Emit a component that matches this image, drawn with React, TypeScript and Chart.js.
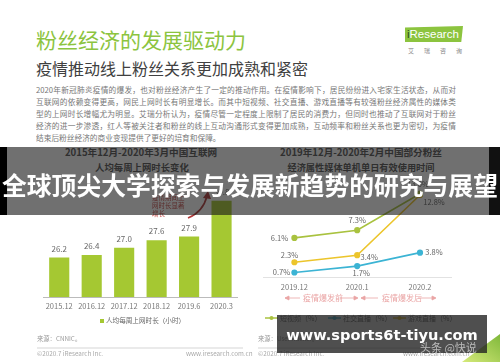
import React, { useEffect, useRef } from "react";
import { Chart, registerables } from "chart.js";

Chart.register(...registerables);

// ---------- data ----------
const barCategories = ["2015.12", "2016.12", "2017.12", "2018.12", "2019.6", "2020.3"];
const barValues = [26.2, 26.4, 27.0, 27.6, 27.9, 30.8];
const barSeriesName = "人均每周上网时长（小时）";

const lineCategories = ["2019.12", "2020.1", "2020.2"];
const shortVideo = [6.1, 7.3, 13.0];
const socialLive = [0.7, 1.7, 3.8];
const gameLive = [2.3, 3.4, 12.8];
const lineSeriesNames = ["短视频（%）", "社交直播（%）", "游戏直播（%）"];

const paragraphLines = [
  "2020年新冠肺炎疫情的爆发，也对粉丝经济产生了一定的推动作用。在疫情影响下，居民纷纷进入宅家生活状态，从而对",
  "互联网的依赖变得更高，网民上网时长有明显增长。而其中短视频、社交直播、游戏直播等有较强粉丝经济属性的媒体类",
  "型的上网时长增幅尤为明显。艾瑞分析认为，疫情尽管一定程度上限制了居民的消费力，但同时也推动了互联网对于粉丝",
  "经济的进一步渗透，红人等被关注者和粉丝的线上互动沟通形式变得更加成熟，互动频率和粉丝关系也更为密切，为疫情",
  "结束后粉丝经济的商业变现提供了更好的培育和保障。",
];

// ---------- styles ----------
const GREEN = "#a5c832";
const LINE_COLORS = ["#a9c23f", "#3cb4d4", "#ecc52c"];
const CJK = "'Noto Sans CJK SC', 'Noto Sans', sans-serif";
const lineLabelOffsets = [
  [[-15, 0], [0, -10], [-2, -10]],
  [[-13, 0], [4, 7], [14, 0]],
  [[-5, -7], [12, 2], [14, 7]],
];

const valueLabelPlugin = {
  id: "valueLabels",
  afterDatasetsDraw(chart: any, _args: any, opts: any) {
    const ctx = chart.ctx;
    chart.data.datasets.forEach((ds: any, di: number) => {
      const meta = chart.getDatasetMeta(di);
      meta.data.forEach((el: any, i: number) => {
        const v = ds.data[i];
        const off = (opts.offsets && opts.offsets[di] && opts.offsets[di][i]) || [0, -9];
        ctx.save();
        ctx.font = opts.font;
        ctx.fillStyle = opts.color;
        ctx.textAlign = "center";
        ctx.textBaseline = "middle";
        ctx.fillText(opts.suffix ? v.toFixed(1) + opts.suffix : v.toFixed(1), el.x + off[0], el.y + off[1]);
        ctx.restore();
      });
    });
  },
};

function BarChart() {
  const ref = useRef<HTMLCanvasElement>(null);
  useEffect(() => {
    const chart = new Chart(ref.current!, {
      type: "bar",
      data: {
        labels: barCategories,
        datasets: [
          {
            label: barSeriesName,
            data: barValues,
            backgroundColor: GREEN,
            categoryPercentage: 1,
            barPercentage: 0.62,
          },
        ],
      },
      options: {
        responsive: false,
        animation: false,
        layout: { padding: { left: 13, right: 0, top: 6, bottom: 0 } },
        plugins: {
          legend: { display: false },
          tooltip: { enabled: false },
          valueLabels: { font: `8px ${CJK}`, color: "#666" },
        } as any,
        scales: {
          x: {
            grid: { display: false, drawTicks: false },
            border: { display: true, color: "#bbb", width: 1 },
            ticks: { color: "#777", font: { size: 7.5, family: CJK }, padding: 5, maxRotation: 0 },
            afterFit: (s: any) => {
              s.height = 16;
            },
          } as any,
          y: { display: false, min: 23, max: 32 },
        },
      },
      plugins: [valueLabelPlugin],
    });
    return () => chart.destroy();
  }, []);
  return (
    <canvas
      ref={ref}
      width={208}
      height={133}
      style={{ position: "absolute", left: 30, top: 180, width: 208, height: 133 }}
    />
  );
}

function LineChart() {
  const ref = useRef<HTMLCanvasElement>(null);
  useEffect(() => {
    const series = [shortVideo, socialLive, gameLive];
    const chart = new Chart(ref.current!, {
      type: "line",
      data: {
        labels: lineCategories,
        datasets: series.map((d, i) => ({
          label: lineSeriesNames[i],
          data: d,
          borderColor: LINE_COLORS[i],
          backgroundColor: LINE_COLORS[i],
          pointBackgroundColor: LINE_COLORS[i],
          pointBorderColor: LINE_COLORS[i],
          pointRadius: 2.3,
          borderWidth: 1.6,
          tension: 0,
        })),
      },
      options: {
        responsive: false,
        animation: false,
        layout: { padding: { left: 13, right: 0, top: 6, bottom: 0 } },
        plugins: {
          legend: { display: false },
          tooltip: { enabled: false },
          valueLabels: { font: `7.5px ${CJK}`, color: "#666", suffix: "%", offsets: lineLabelOffsets },
        } as any,
        scales: {
          x: {
            offset: true,
            grid: { display: false, drawTicks: false },
            border: { display: true, color: "#e2e2e2", width: 1 },
            ticks: { color: "#777", font: { size: 7.5, family: CJK }, padding: 6, maxRotation: 0 },
            afterFit: (s: any) => {
              s.height = 16;
            },
          } as any,
          y: { display: false, min: 0, max: 14.2 },
        },
      },
      plugins: [valueLabelPlugin],
    });
    return () => chart.destroy();
  }, []);
  return (
    <canvas
      ref={ref}
      width={207}
      height={113}
      style={{ position: "absolute", left: 250, top: 180, width: 207, height: 113 }}
    />
  );
}

const abs = (l: number, t: number, extra: React.CSSProperties = {}): React.CSSProperties => ({
  position: "absolute",
  left: l,
  top: t,
  whiteSpace: "nowrap",
  lineHeight: 1,
  ...extra,
});

export default function App() {
  const legendX = [265, 328, 393];
  return (
    <div
      style={{
        position: "fixed",
        left: 0,
        top: 0,
        width: 500,
        height: 362,
        overflow: "hidden",
        background: "#fff",
        fontFamily: CJK,
      }}
    >
      {/* header */}
      <div style={abs(36, 28.5, { fontSize: 21, color: "#8cc43f" })}>粉丝经济的发展驱动力</div>
      <div style={abs(36, 60, { fontSize: 16, color: "#404040" })}>疫情推动线上粉丝关系更加成熟和紧密</div>
      <div
        style={abs(405, 26, {
          width: 58,
          height: 16,
          background: "#8cc43f",
          clipPath: "polygon(0 10%, 100% 0, 97% 100%, 0 100%)",
          color: "#fff",
          fontSize: 11.5,
          fontFamily: "'Liberation Sans', sans-serif",
          lineHeight: "17px",
          paddingLeft: 2,
          boxSizing: "border-box",
        })}
      >
        <span style={{ color: "#2c4a1a" }}>i</span>Research
      </div>
      <div style={abs(408, 48, { fontSize: 6, color: "#888", letterSpacing: 10 })}>艾瑞咨询</div>

      {/* paragraph */}
      {paragraphLines.map((t, i) => {
        const full = i < paragraphLines.length - 1;
        return (
          <div
            key={i}
            style={{
              position: "absolute",
              left: 36,
              top: 84 + i * 12,
              width: full ? 420 : undefined,
              height: 11,
              overflow: "hidden",
              fontSize: 7.7,
              lineHeight: "11px",
              color: "#777",
              textAlign: full ? "justify" : "left",
              textAlignLast: full ? "justify" : "auto",
              whiteSpace: full ? "normal" : "nowrap",
            } as React.CSSProperties}
          >
            {t}
          </div>
        );
      })}

      {/* chart titles */}
      <div style={abs(0, 148, { width: 282, textAlign: "center", fontSize: 9.6, fontWeight: 700, color: "#555" })}>
        2015年12月-2020年3月中国互联网
      </div>
      <div style={abs(0, 163, { width: 284, textAlign: "center", fontSize: 9.4, fontWeight: 700, color: "#555" })}>
        人均每周上网时长变化
      </div>
      <div style={abs(250, 148, { width: 222, textAlign: "center", fontSize: 9.6, fontWeight: 700, color: "#555" })}>
        2019年12月-2020年2月中国部分粉丝
      </div>
      <div style={abs(250, 163, { width: 222, textAlign: "center", fontSize: 9.2, fontWeight: 700, color: "#555" })}>
        经济属性媒体单机单日有效使用时间
      </div>

      <BarChart />
      <LineChart />

      {/* red annotation on bar chart */}
      <div style={abs(152, 193, { fontSize: 6.5, color: "#c8504d", lineHeight: "8px" })}>
        疫情期间上
        <br />
        网时长显著
        <br />
        增长
      </div>
      <svg style={{ position: "absolute", left: 0, top: 0 }} width={500} height={362}>
        <path d="M188 218 Q 203 212 207 196" stroke="#b03a3a" strokeWidth={1.6} fill="none" />
        <path d="M203 198 L208 191 L211 199 Z" fill="#b03a3a" />
        {/* period markers */}
        <g stroke="#eaa5a5" strokeWidth={0.8} fill="#eaa5a5">
          <line x1={285} y1={298} x2={300} y2={298} />
          <path d="M285 298 L289 296 L289 300 Z" />
          <line x1={340} y1={298} x2={357} y2={298} />
          <path d="M358 298 L354 296 L354 300 Z" />
          <line x1={361} y1={298} x2={378} y2={298} />
          <path d="M361 298 L365 296 L365 300 Z" />
          <line x1={418} y1={298} x2={435} y2={298} />
          <path d="M436 298 L432 296 L432 300 Z" />
        </g>
        {/* line legend glyphs */}
        {legendX.map((x, i) => (
          <g key={i}>
            <line x1={x} y1={318} x2={x + 13} y2={318} stroke={LINE_COLORS[i]} strokeWidth={1.5} />
            <circle cx={x + 6.5} cy={318} r={2} fill={LINE_COLORS[i]} />
          </g>
        ))}
        <line x1={37} y1={348} x2={243} y2={348} stroke="#d5d5d5" strokeWidth={1} />
        <line x1={258} y1={348} x2={460} y2={348} stroke="#d5d5d5" strokeWidth={1} />
      </svg>
      <div style={abs(303, 294, { fontSize: 8, color: "#eaa5a5" })}>疫情爆发前</div>
      <div style={abs(382, 294, { fontSize: 8, color: "#eaa5a5" })}>疫情爆发后</div>

      {/* bar legend */}
      <div style={abs(100, 319, { width: 4, height: 4, background: GREEN })} />
      <div style={abs(106, 317, { fontSize: 6.6, color: "#666" })}>{barSeriesName}</div>
      {/* line legend texts */}
      {legendX.map((x, i) => (
        <div key={i} style={abs(x + 15, 314.5, { fontSize: 7, color: "#666" })}>
          {lineSeriesNames[i]}
        </div>
      ))}

      {/* footers */}
      <div style={abs(37, 336, { fontSize: 6.3, color: "#999" })}>来源：CNNIC。</div>
      <div style={abs(37, 351, { fontSize: 6.3, color: "#aaa" })}>©2020.7 iResearch Inc.</div>
      <div style={abs(186, 351, { fontSize: 6.3, color: "#aaa" })}>www.iresearch.com.cn</div>
      <div style={abs(258, 336, { fontSize: 6.3, color: "#999" })}>来源：UserTracker。</div>
      <div style={abs(258, 351, { fontSize: 6.3, color: "#aaa" })}>©2020.7 iResearch Inc.</div>
      <div style={abs(403, 351, { fontSize: 6.3, color: "#aaa" })}>www.iresearch.com.cn</div>

      {/* green corner */}
      <svg style={{ position: "absolute", left: 0, top: 0 }} width={500} height={362}>
        <defs>
          <linearGradient id="gc" x1="0" y1="1" x2="1" y2="0">
            <stop offset="0" stopColor="#d6ea7a" />
            <stop offset="1" stopColor="#7fb83a" />
          </linearGradient>
        </defs>
        <polygon points="462,362 500,334 500,362" fill="url(#gc)" />
      </svg>

      {/* overlay band */}
      <div style={{ position: "absolute", left: 0, top: 147, width: 500, height: 68, background: "rgba(25,25,25,0.62)" }} />
      <div style={{ position: "absolute", left: 0, top: 147, width: 7, height: 68, background: "#000" }} />
      <div style={{ position: "absolute", left: 489, top: 147, width: 11, height: 68, background: "#111" }} />
      <div
        style={abs(0, 172, {
          width: 500,
          textAlign: "center",
          fontSize: 24.8,
          fontWeight: 700,
          color: "#fff",
        })}
      >
        全球顶尖大学探索与发展新趋势的研究与展望
      </div>

      {/* bottom banner */}
      <div style={{ position: "absolute", left: 277, top: 315, width: 210, height: 38, background: "rgba(35,35,35,0.8)" }} />
      <div
        style={abs(277, 328, {
          width: 210,
          textAlign: "center",
          fontSize: 14.6,
          fontWeight: 700,
          color: "#fff",
          fontFamily: "'DejaVu Sans', sans-serif",
        })}
      >
        www.sports6t-tiyu.com
      </div>
      <div style={abs(420, 342, { fontSize: 11, color: "rgba(205,205,205,0.85)" })}>头条 @快说</div>
    </div>
  );
}
